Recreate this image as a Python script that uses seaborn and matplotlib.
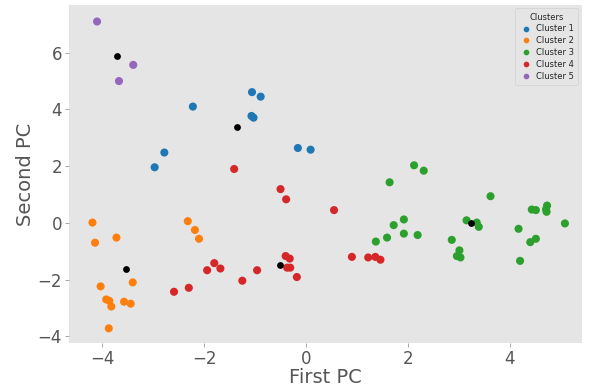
import numpy as np
import pandas as pd
import matplotlib
matplotlib.use("Agg")
import matplotlib.pyplot as plt
import seaborn as sns

# PCA-projected points per cluster
c1_x = [-1.06, -0.89, -2.22, -1.07, -1.03, -0.16, 0.09, -2.78, -2.97]
c1_y = [4.61, 4.45, 4.10, 3.77, 3.71, 2.64, 2.58, 2.48, 1.96]

c2_x = [-4.19, -4.14, -3.72, -4.03, -3.40, -3.92, -3.86, -3.82, -3.57, -3.44, -3.87,
        -2.32, -2.18, -2.10]
c2_y = [0.01, -0.70, -0.52, -2.24, -2.10, -2.70, -2.75, -2.95, -2.78, -2.85, -3.72,
        0.06, -0.25, -0.56]

c3_x = [2.12, 2.31, 1.64, 3.62, 4.43, 4.51, 4.73, 4.71, 4.72, 1.92, 1.72, 3.15, 3.35,
        3.39, 5.08, 4.17, 1.92, 2.19, 1.59, 1.37, 2.86, 4.51, 4.40, 3.01, 2.96, 3.03, 4.20]
c3_y = [2.03, 1.84, 1.43, 0.94, 0.47, 0.45, 0.61, 0.48, 0.39, 0.12, -0.08, 0.09, 0.01,
        -0.14, -0.02, -0.21, -0.38, -0.43, -0.52, -0.66, -0.60, -0.56, -0.68, -0.97,
        -1.17, -1.22, -1.34]

c4_x = [-1.41, -2.59, -2.30, -1.94, -1.80, -1.68, -1.25, -0.96, -0.40, -0.32, -0.37,
        -0.31, -0.18, -0.50, -0.39, 0.55, 0.90, 1.22, 1.36, 1.46]
c4_y = [1.90, -2.43, -2.29, -1.67, -1.42, -1.61, -2.04, -1.67, -1.17, -1.26, -1.58,
        -1.58, -1.91, 1.19, 0.83, 0.45, -1.20, -1.22, -1.20, -1.30]

c5_x = [-4.10, -3.39, -3.67]
c5_y = [7.10, 5.57, 5.00]

# cluster centres
cent_x = [-1.35, -3.54, 3.24, -0.52, -3.71]
cent_y = [3.38, -1.63, 0.00, -1.48, 5.90]

clusters = ["Cluster 1", "Cluster 2", "Cluster 3", "Cluster 4", "Cluster 5"]
xs = [c1_x, c2_x, c3_x, c4_x, c5_x]
ys = [c1_y, c2_y, c3_y, c4_y, c5_y]

df = pd.concat([pd.DataFrame({"x": x, "y": y, "Clusters": name})
                for name, x, y in zip(clusters, xs, ys)], ignore_index=True)

sns.set_style("dark", {"axes.facecolor": "#E5E5E5", "axes.edgecolor": "#E5E5E5",
                       "xtick.bottom": True, "ytick.left": True})
plt.rcParams["font.family"] = ["DejaVu Sans"]

fig, ax = plt.subplots(figsize=(5.9, 3.9), dpi=100)
fig.subplots_adjust(left=0.117, right=0.986, top=0.987, bottom=0.121)

sns.scatterplot(data=df, x="x", y="y", hue="Clusters", palette="tab10",
                s=34, linewidth=0, ax=ax)
ax.scatter(cent_x, cent_y, color="black", s=24, linewidth=0, zorder=3)

ax.set_xlim(-4.65, 5.41)
ax.set_ylim(-4.23, 7.68)
ax.set_xticks([-4, -2, 0, 2, 4])
ax.set_yticks([-4, -2, 0, 2, 4, 6])
ax.tick_params(labelsize=12, colors="#555555", length=3, width=0.6,
               color="#999999", pad=2)
ax.set_xlabel("First PC", fontsize=14, color="#555555", labelpad=0)
ax.set_ylabel("Second PC", fontsize=14, color="#555555", labelpad=2)
for s in ax.spines.values():
    s.set_visible(False)

leg = ax.legend(title="Clusters", loc="upper right", fontsize=6, title_fontsize=6,
                markerscale=0.7, frameon=True, handletextpad=0.4, handlelength=1.6,
                labelspacing=0.35, borderpad=0.5, borderaxespad=0.4)
leg.get_frame().set_facecolor("#E5E5E5")
leg.get_frame().set_edgecolor("#D0D0D0")
leg.get_frame().set_linewidth(0.6)

plt.savefig("out.png", dpi=100)
